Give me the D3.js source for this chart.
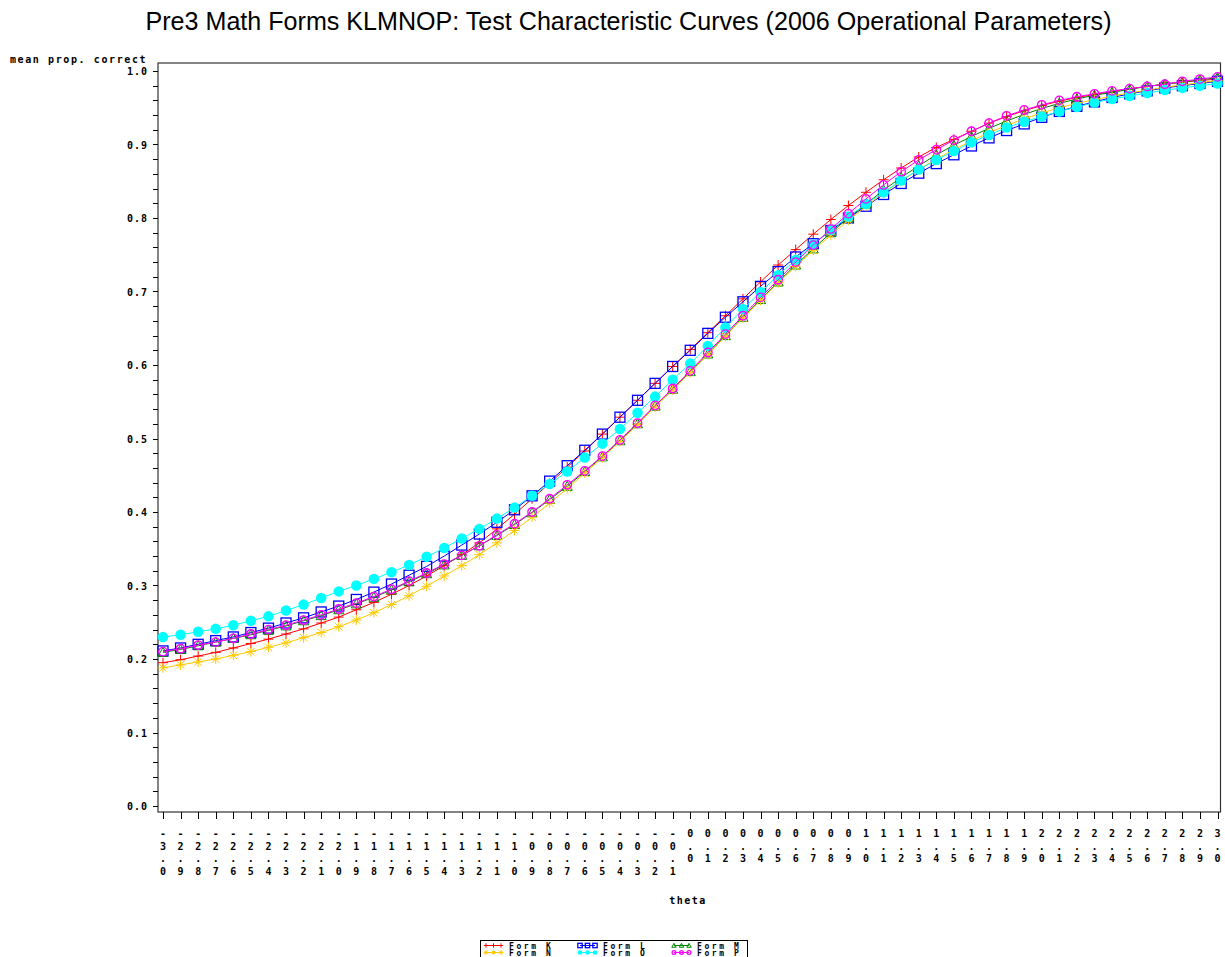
<!DOCTYPE html>
<html>
<head>
<meta charset="utf-8">
<script src="https://cdn.jsdelivr.net/npm/d3@7"></script>
<style>
  html, body { margin: 0; padding: 0; background: #fff; }
  svg { display: block; }
</style>
</head>
<body>
<div id="chart"></div>
<script>
// theta categories (tick labels)
var theta = ["-3.0","-2.9","-2.8","-2.7","-2.6","-2.5","-2.4","-2.3","-2.2","-2.1",
             "-2.0","-1.9","-1.8","-1.7","-1.6","-1.5","-1.4","-1.3","-1.2","-1.1",
             "-1.0","-0.9","-0.8","-0.7","-0.6","-0.5","-0.4","-0.3","-0.2","-0.1",
             "0.0","0.1","0.2","0.3","0.4","0.5","0.6","0.7","0.8","0.9",
             "1.0","1.1","1.2","1.3","1.4","1.5","1.6","1.7","1.8","1.9",
             "2.0","2.1","2.2","2.3","2.4","2.5","2.6","2.7","2.8","2.9","3.0"];

var yTicks = [0.0,0.1,0.2,0.3,0.4,0.5,0.6,0.7,0.8,0.9,1.0];

var formK = [.195,.199,.204,.209,.215,.221,.227,.234,.241,.249,
             .257,.267,.277,.288,.300,.313,.327,.342,.358,.377,
             .397,.418,.439,.461,.483,.506,.529,.552,.575,.598,
             .621,.644,.667,.690,.713,.736,.757,.778,.798,.817,
             .835,.852,.868,.883,.896,.907,.918,.929,.938,.946,
             .953,.959,.964,.968,.972,.976,.979,.982,.985,.987,.989];
var formL = [.211,.215,.220,.225,.230,.236,.242,.249,.256,.264,
             .272,.281,.291,.302,.314,.326,.340,.355,.370,.386,
             .403,.422,.442,.463,.484,.506,.529,.552,.575,.598,
             .620,.643,.665,.686,.707,.727,.747,.765,.783,.800,
             .816,.832,.847,.861,.874,.886,.898,.909,.919,.928,
             .937,.945,.952,.958,.964,.969,.973,.977,.980,.983,.986];
var formM = [.209,.213,.218,.223,.228,.233,.239,.245,.252,.259,
             .267,.275,.284,.294,.305,.316,.328,.341,.354,.368,
             .383,.399,.417,.435,.455,.475,.497,.520,.544,.567,
             .591,.615,.640,.665,.689,.713,.736,.758,.780,.800,
             .819,.838,.855,.871,.886,.899,.911,.922,.932,.941,
             .949,.956,.962,.967,.971,.975,.979,.982,.985,.988,.991];
var formN = [.188,.192,.196,.200,.205,.210,.216,.222,.229,.236,
             .244,.253,.263,.274,.286,.299,.313,.327,.342,.358,
             .375,.393,.412,.432,.453,.474,.496,.519,.543,.566,
             .590,.614,.639,.664,.688,.712,.734,.756,.777,.797,
             .816,.834,.850,.866,.880,.893,.905,.916,.926,.935,
             .943,.950,.956,.961,.966,.970,.974,.978,.981,.984,.987];
var formO = [.230,.233,.237,.241,.246,.252,.258,.266,.274,.283,
             .292,.300,.309,.318,.328,.339,.351,.364,.377,.391,
             .406,.422,.438,.455,.474,.493,.513,.535,.557,.580,
             .602,.626,.651,.676,.699,.722,.743,.764,.784,.802,
             .819,.835,.851,.866,.879,.891,.903,.913,.923,.931,
             .938,.945,.951,.957,.962,.966,.970,.974,.977,.980,.983];
var formP = [.210,.214,.219,.223,.228,.234,.240,.246,.253,.260,
             .268,.276,.285,.295,.306,.317,.329,.341,.354,.369,
             .384,.400,.418,.437,.456,.476,.498,.521,.545,.568,
             .592,.617,.642,.667,.692,.716,.740,.763,.785,.806,
             .826,.845,.863,.879,.893,.906,.918,.929,.939,.947,
             .954,.960,.965,.969,.973,.976,.979,.982,.986,.989,.992];

var seriesNames = ["Form K","Form L","Form M","Form N","Form O","Form P"];
var seriesColors = ["#ff0000","#0000ff","#008000","#ffc800","#00ffff","#ff00ff"];

var series = [
    {name:seriesNames[0], color:seriesColors[0], values:formK, shape:"plus"},
    {name:seriesNames[1], color:seriesColors[1], values:formL, shape:"square"},
    {name:seriesNames[2], color:seriesColors[2], values:formM, shape:"triangle"},
    {name:seriesNames[3], color:seriesColors[3], values:formN, shape:"star"},
    {name:seriesNames[4], color:seriesColors[4], values:formO, shape:"dot"},
    {name:seriesNames[5], color:seriesColors[5], values:formP, shape:"circle"}
];

var width = 1225, height = 957;
var frame = {left:158, right:1220.5, top:63, bottom:812};
var mono = "'DejaVu Sans Mono', monospace";

var svg = d3.select("#chart")
    .append("svg")
    .attr("width",width)
    .attr("height",height);

var x = d3.scalePoint()
    .domain(theta)
    .range([163,1217.5]);
var y = d3.scaleLinear()
    .domain([0,1])
    .range([806,71]);

// title
svg.append("text")
    .attr("x",628.5)
    .attr("y",30)
    .attr("text-anchor","middle")
    .attr("font-family","'Liberation Sans', Arial, sans-serif")
    .attr("font-size",25)
    .attr("textLength",966)
    .attr("lengthAdjust","spacingAndGlyphs")
    .text("Pre3 Math Forms KLMNOP: Test Characteristic Curves (2006 Operational Parameters)");

// frame
svg.append("rect")
    .attr("x",frame.left)
    .attr("y",frame.top)
    .attr("width",frame.right-frame.left)
    .attr("height",frame.bottom-frame.top)
    .attr("fill","none")
    .attr("stroke","#333")
    .attr("stroke-width",1.2);

// y axis ticks
var minor = d3.range(0,1.0001,0.02);
svg.append("g").selectAll("line")
    .data(minor)
    .enter()
    .append("line")
    .attr("x1",frame.left-5)
    .attr("x2",frame.left)
    .attr("y1",d=>Math.round(y(d))+0.5)
    .attr("y2",d=>Math.round(y(d))+0.5)
    .attr("stroke","#000");
svg.append("g").selectAll("text")
    .data(yTicks)
    .enter()
    .append("text")
    .attr("x",148)
    .attr("y",d=>y(d)+4)
    .attr("text-anchor","end")
    .attr("font-family",mono)
    .attr("font-weight","bold")
    .attr("font-size",10)
    .attr("letter-spacing",1)
    .text(d=>d.toFixed(1));

svg.append("text")
    .attr("x",10)
    .attr("y",63)
    .attr("font-family",mono)
    .attr("font-weight","bold")
    .attr("font-size",10)
    .attr("letter-spacing",1.6)
    .text("mean prop. correct");

// x axis ticks
svg.append("g").selectAll("line")
    .data(theta)
    .enter()
    .append("line")
    .attr("x1",d=>Math.round(x(d))+0.5)
    .attr("x2",d=>Math.round(x(d))+0.5)
    .attr("y1",frame.bottom)
    .attr("y2",frame.bottom+7)
    .attr("stroke","#000");

var xLab = svg.append("g").selectAll("g")
    .data(theta)
    .enter()
    .append("g")
    .attr("transform",d=>"translate("+x(d)+",0)");
xLab.selectAll("text")
    .data(d=>d.split(""))
    .enter()
    .append("text")
    .attr("x",0)
    .attr("y",(c,i)=>837+i*12.6)
    .attr("text-anchor","middle")
    .attr("font-family",mono)
    .attr("font-weight","bold")
    .attr("font-size",10)
    .text(c=>c);

svg.append("text")
    .attr("x",688)
    .attr("y",904)
    .attr("text-anchor","middle")
    .attr("font-family",mono)
    .attr("font-weight","bold")
    .attr("font-size",10)
    .attr("letter-spacing",1.5)
    .text("theta");

// markers
function marker(sel,shape,color,s){
    if(shape==="plus"){
        sel.append("path").attr("d",`M${-s},0H${s}M0,${-s}V${s}`)
            .attr("stroke",color).attr("fill","none");
    } else if(shape==="square"){
        sel.append("rect").attr("x",-s).attr("y",-s).attr("width",2*s).attr("height",2*s)
            .attr("stroke",color).attr("fill","none").attr("stroke-width",1.3);
    } else if(shape==="triangle"){
        sel.append("path").attr("d",`M0,${-s}L${s},${s*0.8}L${-s},${s*0.8}Z`)
            .attr("stroke",color).attr("fill","none");
    } else if(shape==="star"){
        var a = s*0.75;
        sel.append("path").attr("d",`M${-s},0H${s}M0,${-s}V${s}M${-a},${-a}L${a},${a}M${-a},${a}L${a},${-a}`)
            .attr("stroke",color).attr("fill","none");
    } else if(shape==="dot"){
        sel.append("circle").attr("r",s*1.05).attr("fill",color);
    } else if(shape==="circle"){
        sel.append("circle").attr("r",s*0.85).attr("stroke",color).attr("fill","none").attr("stroke-width",1.3);
    }
}

var line = d3.line()
    .x((d,i)=>x(theta[i]))
    .y(d=>y(d));

var plot = svg.append("g");
series.forEach(function(s){
    var g = plot.append("g");
    g.append("path")
        .attr("d",line(s.values))
        .attr("fill","none")
        .attr("stroke",s.color)
        .attr("stroke-width",1);
    g.selectAll("g")
        .data(s.values)
        .enter()
        .append("g")
        .attr("transform",(d,i)=>"translate("+x(theta[i])+","+y(d)+")")
        .each(function(){ marker(d3.select(this),s.shape,s.color,5); });
});

// legend
svg.append("rect")
    .attr("x",480.5)
    .attr("y",940.5)
    .attr("width",267)
    .attr("height",24)
    .attr("fill","none")
    .attr("stroke","#000");

var legX = [486,580,674];
var legRowY = [945.5,952.5];
series.forEach(function(s,i){
    var col = i%3, row = Math.floor(i/3);
    var g = svg.append("g")
        .attr("transform","translate("+legX[col]+","+legRowY[row]+")");
    g.append("line").attr("x1",0).attr("x2",15).attr("stroke",s.color);
    [0,7.5,15].forEach(function(dx){
        var m = g.append("g").attr("transform","translate("+dx+",0)");
        marker(m,s.shape,s.color,2.2);
    });
    g.append("text")
        .attr("x",23)
        .attr("y",3)
        .attr("font-family",mono)
        .attr("font-weight","bold")
        .attr("font-size",8)
        .attr("letter-spacing",2.6)
        .text(s.name);
});
</script>
</body>
</html>
